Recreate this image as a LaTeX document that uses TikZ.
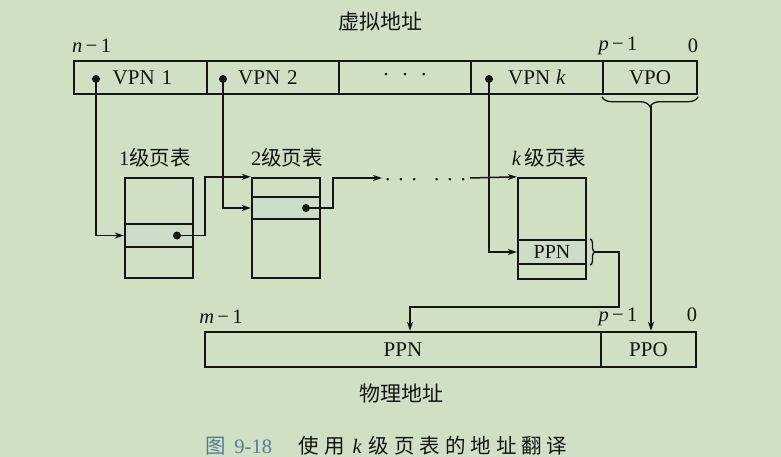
\documentclass[tikz,border=0pt]{standalone}
\usepackage{fontspec}
\setmainfont{Liberation Serif}
\newfontfamily\cjk{Noto Sans CJK SC}
\newfontfamily\cjkcap[LetterSpace=24]{Noto Sans CJK SC}
\usetikzlibrary{arrows.meta,decorations.pathreplacing}
\definecolor{bg}{RGB}{207,224,196}
\definecolor{rowfill}{RGB}{203,220,199}
\definecolor{capblue}{RGB}{88,122,150}
\definecolor{ink}{RGB}{20,20,20}
\newcommand{\ellipsisdots}[1]{·\hspace{#1}·\hspace{#1}·}
\tikzset{
  txt/.style={inner sep=0pt, text=ink, font=\fontsize{20.5}{24}\selectfont},
  field/.style={draw=ink, line width=2.4pt, minimum height=33pt, inner sep=0pt,
                text=ink, font=\fontsize{21}{24}\selectfont},
  tbl/.style={draw=ink, line width=2.4pt, minimum width=68pt, inner sep=0pt},
  tblrow/.style={draw=ink, line width=2.4pt, fill=rowfill, minimum width=68pt,
                 inner sep=0pt, text=ink, font=\fontsize{20}{22}\selectfont},
  dotmark/.style={circle, fill=ink, inner sep=0pt, minimum size=8pt},
  conn/.style={draw=ink, line width=1.5pt, -{Stealth[length=9pt,width=6pt]}},
  brc/.style={draw=ink, line width=1.3pt, decorate},
}
\begin{document}
\begin{tikzpicture}[x=1pt,y=-1pt]
\path[fill=bg, use as bounding box] (0,0) rectangle (781,457);

% virtual address
\node[txt, font=\fontsize{21}{24}\selectfont] (vatitle) at (380,22) {\cjk 虚拟地址};
\node[txt, anchor=west] (vahi) at (72,46) {\textit{n}\,−\,1};
\node[txt] (vap) at (618,46) {\textit{p}\,−\,1};
\node[txt] (vazero) at (693,46) {0};

\node[field, minimum width=133pt] (vpn1) at (140.5,77.5) {\hspace{4pt}VPN\hspace{7pt}1};
\node[field, minimum width=132pt] (vpn2) at (273,77.5) {\hspace{-10pt}VPN\hspace{7pt}2};
\node[field, minimum width=132pt] (vdots) at (405,77.5) {\ellipsisdots{12pt}};
\node[field, minimum width=132pt] (vpnk) at (537,77.5) {VPN\hspace{6pt}\textit{k}};
\node[field, minimum width=94pt] (vpo) at (650,77.5) {VPO};

\node[dotmark] (d1) at (96,79) {};
\node[dotmark] (d2) at (223,79) {};
\node[dotmark] (dk) at (489,79) {};

% page tables
\node[txt] (t1title) at (155,158) {1\cjk 级页表};
\node[txt] (t2title) at (287,158) {2\cjk 级页表};
\node[txt] (tktitle) at (549,158) {\textit{k}\,\cjk 级页表};

\node[tbl, minimum height=100pt] (t1) at (159,228) {};
\node[tblrow, minimum height=23pt] (r1) at (159,235.5) {};
\node[dotmark] (e1) at (177,235.5) {};

\node[tbl, minimum height=100pt] (t2) at (286,228) {};
\node[tblrow, minimum height=22pt] (r2) at (286,208) {};
\node[dotmark] (e2) at (306,208) {};

\node[tbl, minimum height=101pt] (tk) at (552,228.5) {};
\node[tblrow, minimum height=24pt] (rk) at (552,252) {PPN};

% walk through the levels
\draw[conn] (d1.center) |- (r1.west);
\draw[conn] (d2.center) |- (r2.west);
\draw[conn] (dk.center) |- (rk.west);

\coordinate (j1) at (205,235.5);
\draw[conn] (e1.center) -- (j1) |- (t2.north west);

\coordinate (j2) at (333,208);
\coordinate (c1) at (382,178);
\draw[conn] (e2.center) -- (j2) |- (c1);
\node[txt] (dots1) at (401,183) {\ellipsisdots{6.5pt}};
\node[txt] (dots2) at (450,183) {\ellipsisdots{6.5pt}};
\coordinate (c2) at (470,178);
\draw[conn] (c2) -- (tk.north west);

% physical address
\node[field, minimum width=396pt, minimum height=35pt] (ppn) at (403,349.5) {PPN};
\node[field, minimum width=95pt, minimum height=35pt] (ppo) at (648.5,349.5) {PPO};
\node[txt] (pahi) at (221,317) {\textit{m}\,−\,1};
\node[txt] (pap) at (618,317) {\textit{p}\,−\,1};
\node[txt] (pazero) at (692,315) {0};
\node[txt, font=\fontsize{21}{24}\selectfont] (patitle) at (401,394) {\cjk 物理地址};

% PPN entry to physical page number
\draw[brc, decoration={brace, amplitude=4.5pt}]
  ([xshift=3pt]rk.north east) -- ([xshift=3pt]rk.south east);
\coordinate (b1) at (595,252);
\coordinate (c3) at (619,307);
\draw[conn] (b1) -| (c3) -| ([xshift=7pt]ppn.north);

% VPO copied into PPO
\draw[brc, decoration={brace, amplitude=10pt}]
  ([yshift=-1.5pt]vpo.south east) -- ([yshift=-1.5pt]vpo.south west);
\coordinate (b2) at (651,106);
\draw[conn] (b2) -- (b2 |- ppo.north);

% caption
\node[txt, text=capblue] (capnum) at (239,446) {\cjk 图\hspace{8pt}\rmfamily 9-18};
\node[txt] (captext) at (433,446) {\cjkcap 使用\hspace{8pt}\rmfamily\textit{k}\hspace{7pt}\cjkcap 级页表的地址翻译};
\end{tikzpicture}
\end{document}
